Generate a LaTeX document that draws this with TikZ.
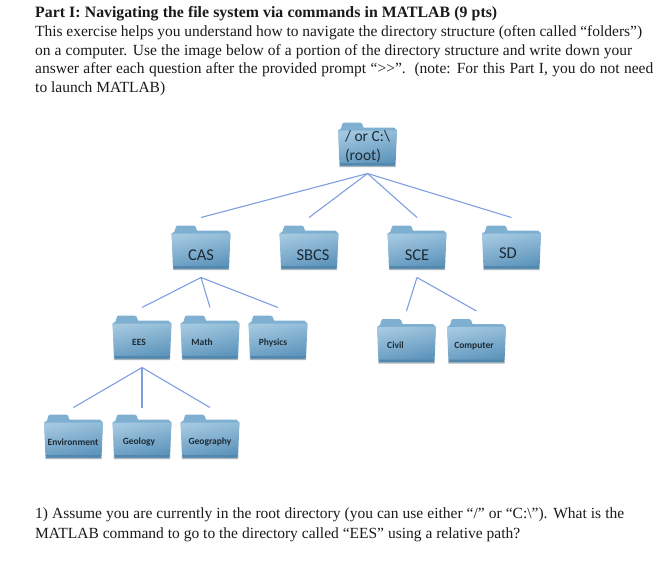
\documentclass[tikz,border=0pt]{standalone}
\usepackage{fontspec}
\setmainfont[Ligatures=NoCommon]{Liberation Serif}
\newfontfamily\labelfont{Carlito}
\definecolor{linkblue}{HTML}{7F9FE0}
\definecolor{folderlight}{HTML}{A3C8E0}
\definecolor{folderdark}{HTML}{5A92BA}
\definecolor{folderback}{HTML}{7FB0D1}
\definecolor{folderbase}{HTML}{5288AE}
\definecolor{foldershadow}{HTML}{AEB6BB}
\definecolor{inktext}{HTML}{1A1A1A}
\definecolor{labelink}{HTML}{1D2B35}
\tikzset{
  folder/.style={minimum width=59pt,minimum height=45pt,inner sep=0pt,outer sep=0pt},
  folderlabel/.style={text=labelink,inner sep=0pt,align=left},
  link/.style={draw=linkblue,line width=1.1pt},
  para/.style={anchor=base west,inner sep=0pt,text=inktext,font=\fontsize{15.5}{18}\selectfont}
}
\newcommand{\folderat}[7]{%
  \node[folder] (#1) at (#2,#3) {};
  \begin{scope}[shift={(#1.north west)}]
    \fill[foldershadow] (1,42) -- (58,42) -- (57.5,44.5) -- (1.5,44.5) -- cycle;
    \fill[folderback] (3,6) -- (4.5,1) -- (6,0) -- (22,0) -- (24,1) -- (25.5,5) -- (56,5) -- (59,8) -- (58,20) -- (1,20) -- (0,8) -- cycle;
    \shade[top color=folderlight,bottom color=folderdark,shading angle=12]
      (0,8) -- (59,8) -- (57.6,41) -- (56.5,43) -- (2.5,43) -- (1.4,41) -- cycle;
    \fill[folderbase] (1.5,40.5) -- (57.5,40.5) -- (56.5,43.2) -- (2.5,43.2) -- cycle;
  \end{scope}
  \node[folderlabel,font=\labelfont\fontsize{#7}{19}\selectfont] (#1text) at ([xshift=#5pt,yshift=#6pt]#1.center) {#4};
}
\newcommand{\textline}[4]{\node[para] (#1) at (35,#2) {\makebox[#3pt][s]{#4}};}
\begin{document}
\begin{tikzpicture}[x=1pt,y=-1pt]
\useasboundingbox[fill=white] (0,0) rectangle (666,587);
\textline{title}{17}{462}{\bfseries\fontsize{15.8}{18}\selectfont Part I: Navigating the file system via commands in MATLAB (9 pts)}
\textline{introa}{36}{607}{This exercise helps you understand how to navigate the directory structure (often called “folders”)}
\textline{introb}{55}{597}{on a computer. Use the image below of a portion of the directory structure and write down your}
\textline{introc}{73}{618}{answer after each question after the provided prompt “{>}{>}”.\ \ (note: For this Part I, you do not need}
\textline{introd}{92}{130}{to launch MATLAB)}
\textline{questiona}{518}{589}{1) Assume you are currently in the root directory (you can use either “/” or “C:\textbackslash”). What is the}
\textline{questionb}{538}{485}{MATLAB command to go to the directory called “EES” using a relative path?}
% folders
\folderat{root}{367.5}{145}{/ or C:\textbackslash\\(root)}{0}{-2}{15.5}
\folderat{cas}{201}{248}{CAS}{0}{-7}{16.5}
\folderat{sbcs}{309}{248}{SBCS}{4}{-7}{16.5}
\folderat{sce}{417}{248}{SCE}{0}{-7}{16.5}
\folderat{sd}{511.5}{248}{SD}{-3.5}{-5.5}{16.5}
\folderat{ees}{142}{338}{\bfseries EES}{-3}{-4}{9.5}
\folderat{math}{210}{338}{\bfseries Math}{-8}{-4}{9.5}
\folderat{physics}{278}{338}{\bfseries Physics}{-5}{-5}{9.5}
\folderat{civil}{406.5}{341.5}{\bfseries Civil}{-11}{-3.5}{9.5}
\folderat{computer}{476.5}{341.5}{\bfseries Computer}{-2.5}{-4.5}{9.5}
\folderat{environment}{73.5}{437}{\bfseries Environment}{-0.5}{-5}{9.5}
\folderat{geology}{142}{437}{\bfseries Geology}{-3}{-5}{9.5}
\folderat{geography}{210}{437}{\bfseries Geography}{0}{-5}{9.5}
% connectors
\draw[link] ([yshift=-6pt]root.south) -- ([yshift=8pt]cas.north);
\draw[link] ([yshift=-6pt]root.south) -- ([yshift=8pt]sbcs.north);
\draw[link] ([yshift=-6pt]root.south) -- ([yshift=8pt]sce.north);
\draw[link] ([yshift=-6pt]root.south) -- ([yshift=8pt]sd.north);
\draw[link] ([yshift=-7pt]cas.south) -- ([yshift=8pt]ees.north);
\draw[link] ([yshift=-7pt]cas.south) -- ([yshift=8pt]math.north);
\draw[link] ([yshift=-7pt]cas.south) -- ([yshift=8pt]physics.north);
\draw[link] ([yshift=-7pt]sce.south) -- ([yshift=8pt]civil.north);
\draw[link] ([yshift=-7pt]sce.south) -- ([yshift=8pt]computer.north);
\draw[link] ([yshift=-7pt]ees.south) -- ([yshift=7pt]environment.north);
\draw[link] ([yshift=-7pt]ees.south) -- ([yshift=7pt]geology.north);
\draw[link] ([yshift=-7pt]ees.south) -- ([yshift=7pt]geography.north);
\end{tikzpicture}
\end{document}
